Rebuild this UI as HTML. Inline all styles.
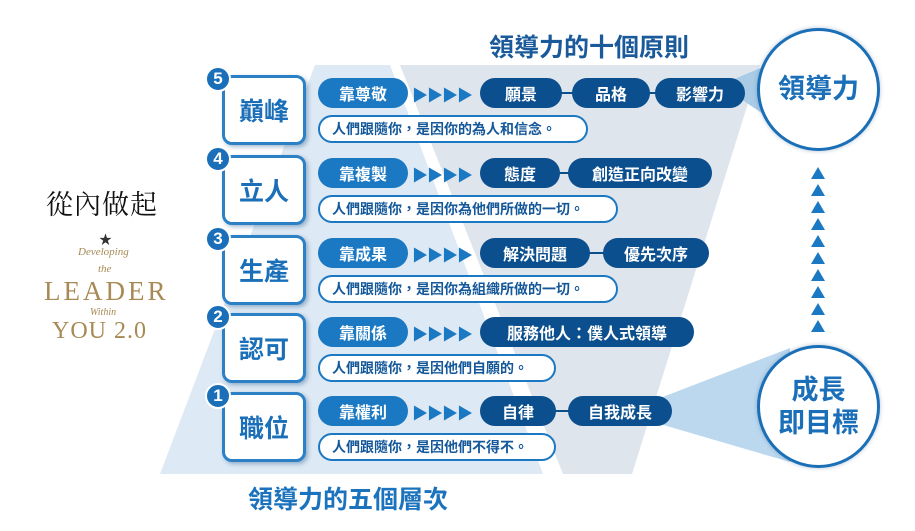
<!DOCTYPE html>
<html><head><meta charset="utf-8"><style>
*{margin:0;padding:0;box-sizing:border-box}
body{width:915px;height:531px;background:#fff;position:relative;overflow:hidden;font-family:"Liberation Sans","Noto Sans CJK TC",sans-serif;font-weight:bold}
.a{position:absolute}
.box{position:absolute;left:222px;width:84px;height:70px;border:3px solid #2b80c6;border-radius:10px;background:#fff;color:#1a6fb8;font-size:25px;display:flex;align-items:center;justify-content:center;box-shadow:2px 2px 4px rgba(0,60,120,.35)}
.num{position:absolute;left:205px;width:26px;height:26px;border-radius:50%;background:#1a6fb8;color:#fff;font-size:17px;display:flex;align-items:center;justify-content:center;border:2px solid #fff}
.p{position:absolute;height:30px;border-radius:15px;color:#fff;font-size:16px;display:flex;align-items:center;justify-content:center;white-space:nowrap}
.l{background:#1b78c2}
.d{background:#0b4f8e}
.s{position:absolute;height:28px;border-radius:14px;border:2px solid #1b78c2;background:#fff;color:#15589a;font-size:14px;display:flex;align-items:center;padding-left:12px;white-space:nowrap}
.arr{position:absolute;color:#1b78c2;font-size:16px;letter-spacing:-1px}
.ln{position:absolute;height:2px;background:#0b4f8e}
.c{position:absolute;width:123px;height:123px;border-radius:50%;border:3px solid #1b6fb6;background:#fff;color:#1a6fb8;font-size:27px;display:flex;align-items:center;justify-content:center;text-align:center;line-height:1.2;box-shadow:0 0 4px rgba(0,60,120,.3)}
</style></head><body>
<svg class="a" style="left:0;top:0" width="915" height="531">
<polygon points="315,65 390,65 543,474 160,474" fill="#dde9f4"/>
<polygon points="400,65 760,65 632,474 563,474" fill="#dfe5ec"/>
<polygon points="720,85 775,62 775,122" fill="#a9cbe6"/>
<polygon points="660,398 790,348 790,462 660,424" fill="#bcd8ee"/>
<g fill="#1b78c2">
<polygon points="818,167 811,179 825,179"/><polygon points="818,184 811,196 825,196"/><polygon points="818,201 811,213 825,213"/><polygon points="818,218 811,230 825,230"/><polygon points="818,235 811,247 825,247"/><polygon points="818,252 811,264 825,264"/><polygon points="818,269 811,281 825,281"/><polygon points="818,286 811,298 825,298"/><polygon points="818,303 811,315 825,315"/><polygon points="818,320 811,332 825,332"/>
</g>
</svg>
<div class="a" style="left:489px;top:28px;font-size:25px;color:#1a5a9a">領導力的十個原則</div>
<div class="a" style="left:248px;top:480px;font-size:25px;color:#1b72bd">領導力的五個層次</div>

<div class="a" style="left:46px;top:183px;font-size:27px;color:#111;font-family:'Noto Serif CJK SC',serif;font-weight:normal;letter-spacing:1px">從內做起</div>
<div class="a" style="left:99px;top:229px;font-size:13px;color:#333">★</div>
<div class="a" style="left:78px;top:246px;font-size:11px;color:#a78a55;font-style:italic;font-family:'Liberation Serif',serif;font-weight:normal">Developing</div>
<div class="a" style="left:98px;top:263px;font-size:11px;color:#a78a55;font-style:italic;font-family:'Liberation Serif',serif;font-weight:normal">the</div>
<div class="a" style="left:44px;top:276px;font-size:27px;color:#a78a55;font-family:'Liberation Serif',serif;font-weight:normal;letter-spacing:3px">LEADER</div>
<div class="a" style="left:90px;top:307px;font-size:10px;color:#a78a55;font-style:italic;font-family:'Liberation Serif',serif;font-weight:normal">Within</div>
<div class="a" style="left:52px;top:318px;font-size:24px;color:#a78a55;font-family:'Liberation Serif',serif;font-weight:normal;letter-spacing:1px">YOU 2.0</div>

<div class="box" style="top:75px">巔峰</div><div class="num" style="top:66px">5</div>
<div class="box" style="top:155px">立人</div><div class="num" style="top:146px">4</div>
<div class="box" style="top:235px">生產</div><div class="num" style="top:226px">3</div>
<div class="box" style="top:313px">認可</div><div class="num" style="top:304px">2</div>
<div class="box" style="top:392px">職位</div><div class="num" style="top:383px">1</div>

<div class="p l" style="left:318px;top:78px;width:90px">靠尊敬</div>
<div class="arr" style="left:412px;top:82px">▶▶▶▶</div>
<div class="ln" style="left:555px;top:92px;width:105px"></div>
<div class="p d" style="left:480px;top:78px;width:82px">願景</div>
<div class="p d" style="left:572px;top:78px;width:78px">品格</div>
<div class="p d" style="left:655px;top:78px;width:90px">影響力</div>
<div class="s" style="left:318px;top:115px;width:270px">人們跟隨你，是因你的為人和信念。</div>

<div class="p l" style="left:318px;top:158px;width:90px">靠複製</div>
<div class="arr" style="left:412px;top:162px">▶▶▶▶</div>
<div class="ln" style="left:555px;top:172px;width:20px"></div>
<div class="p d" style="left:480px;top:158px;width:80px">態度</div>
<div class="p d" style="left:568px;top:158px;width:144px">創造正向改變</div>
<div class="s" style="left:318px;top:195px;width:300px">人們跟隨你，是因你為他們所做的一切。</div>

<div class="p l" style="left:318px;top:238px;width:90px">靠成果</div>
<div class="arr" style="left:412px;top:242px">▶▶▶▶</div>
<div class="ln" style="left:585px;top:252px;width:22px"></div>
<div class="p d" style="left:480px;top:238px;width:110px">解決問題</div>
<div class="p d" style="left:603px;top:238px;width:106px">優先次序</div>
<div class="s" style="left:318px;top:275px;width:300px">人們跟隨你，是因你為組織所做的一切。</div>

<div class="p l" style="left:318px;top:317px;width:90px">靠關係</div>
<div class="arr" style="left:412px;top:321px">▶▶▶▶</div>
<div class="p d" style="left:480px;top:317px;width:214px">服務他人：僕人式領導</div>
<div class="s" style="left:318px;top:354px;width:238px">人們跟隨你，是因他們自願的。</div>

<div class="p l" style="left:318px;top:396px;width:90px">靠權利</div>
<div class="arr" style="left:412px;top:400px">▶▶▶▶</div>
<div class="ln" style="left:550px;top:410px;width:22px"></div>
<div class="p d" style="left:480px;top:396px;width:76px">自律</div>
<div class="p d" style="left:568px;top:396px;width:104px">自我成長</div>
<div class="s" style="left:318px;top:433px;width:238px">人們跟隨你，是因他們不得不。</div>

<div class="c" style="left:757px;top:28px">領導力</div>
<div class="c" style="left:757px;top:345px">成長<br>即目標</div>
</body></html>
